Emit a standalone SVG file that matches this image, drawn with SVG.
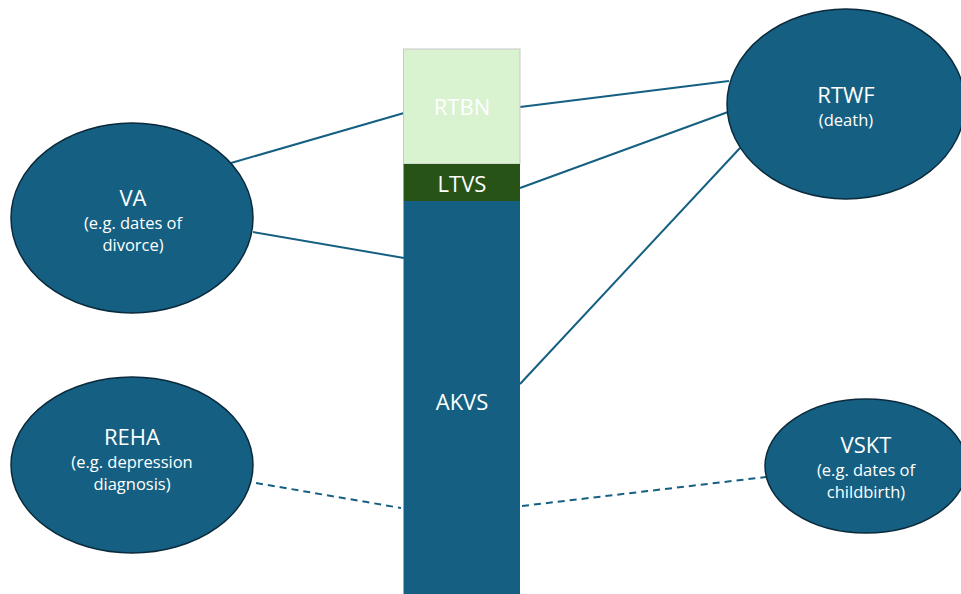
<svg xmlns="http://www.w3.org/2000/svg" width="961" height="594" viewBox="0 0 961 594">
<style>
.node{fill:#156082;stroke:#0b2a3c;stroke-width:1.5}
.t{font-family:"Open Sans","Liberation Sans",sans-serif;fill:#ffffff;text-anchor:middle}
.h{font-size:22px}
.s{font-size:16.5px}
.c{stroke:#156082;stroke-width:2;fill:none}
.d{stroke-dasharray:7 5}
</style>
<rect width="961" height="594" fill="#ffffff"/>
<g id="connectors">
<line class="c" x1="231" y1="163" x2="404" y2="113"/>
<line class="c" x1="253" y1="232" x2="404" y2="258"/>
<line class="c" x1="520" y1="107" x2="729" y2="81"/>
<line class="c" x1="520" y1="188" x2="728" y2="112"/>
<line class="c" x1="520" y1="384" x2="740" y2="148"/>
<line class="c d" x1="256" y1="483" x2="401" y2="508"/>
<line class="c d" x1="522" y1="506" x2="766" y2="477"/>
</g>
<g id="bar">
<rect x="403.5" y="49" width="116.5" height="115" fill="#d9f2d0" stroke="#c8c8c8" stroke-width="1"/>
<rect x="403.5" y="164" width="116.5" height="37" fill="#275317"/>
<rect x="403.5" y="201" width="116.5" height="394" fill="#156082"/>
<text class="t h" x="462" y="115">RTBN</text>
<text class="t h" x="462" y="192">LTVS</text>
<text class="t h" x="462" y="410">AKVS</text>
</g>
<g id="VA">
<ellipse class="node" cx="132" cy="218" rx="121" ry="95"/>
<text class="t h" x="133" y="206">VA</text>
<text class="t s" x="133" y="229">(e.g. dates of</text>
<text class="t s" x="133" y="251">divorce)</text>
</g>
<g id="RTWF">
<ellipse class="node" cx="846" cy="104" rx="119" ry="95"/>
<text class="t h" x="846" y="103">RTWF</text>
<text class="t s" x="846" y="126">(death)</text>
</g>
<g id="REHA">
<ellipse class="node" cx="132" cy="465" rx="121" ry="88"/>
<text class="t h" x="132" y="445">REHA</text>
<text class="t s" x="132" y="468">(e.g. depression</text>
<text class="t s" x="132" y="490">diagnosis)</text>
</g>
<g id="VSKT">
<ellipse class="node" cx="866" cy="466" rx="101" ry="67"/>
<text class="t h" x="866" y="453">VSKT</text>
<text class="t s" x="866" y="476">(e.g. dates of</text>
<text class="t s" x="866" y="498">childbirth)</text>
</g>
</svg>
